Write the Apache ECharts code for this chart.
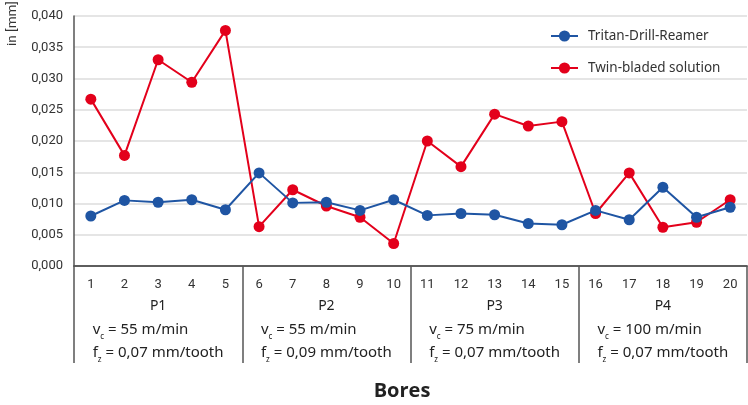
<!DOCTYPE html>
<html>
<head>
<meta charset="utf-8">
<script src="https://cdn.jsdelivr.net/npm/echarts@6/dist/echarts.min.js"></script>
<style>html,body{margin:0;padding:0;background:#fff}#c{width:748px;height:405px}</style>
</head>
<body>
<div id="c"></div>
<script>
const bores = ['1','2','3','4','5','6','7','8','9','10','11','12','13','14','15','16','17','18','19','20'];
const tritan = [0.0080,0.0105,0.0102,0.0106,0.0090,0.0149,0.0101,0.0102,0.0089,0.0106,0.0081,0.0084,0.0082,0.0068,0.0066,0.0089,0.0074,0.0126,0.0078,0.0094];
const twin = [0.0267,0.0177,0.0330,0.0294,0.0377,0.0063,0.0122,0.0096,0.0078,0.0036,0.0200,0.0159,0.0243,0.0224,0.0231,0.0084,0.0149,0.0062,0.0070,0.0106];
const groups = ['P1','P2','P3','P4'];
const vcValues = ['55','55','75','100'];
const fzValues = ['0,07','0,09','0,07','0,07'];
const seriesNames = ['Tritan-Drill-Reamer','Twin-bladed solution'];

const FONT = 'Roboto';
const TFONT = 'Noto Sans';
const chart = echarts.init(document.getElementById('c'), null, {renderer:'canvas'});
chart.setOption({
  animation: false,
  backgroundColor: '#fff',
  title: {
    text: 'Bores', left: 397, top: 376, textAlign: 'center',
    textStyle: {fontFamily: 'Open Sans', fontWeight: 'bold', fontSize: 20, color: '#222'}
  },
  legend: {
    orient: 'vertical', left: 550, top: 29, padding: 0, itemWidth: 27, itemHeight: 14, itemGap: 18,
    textStyle: {fontFamily: TFONT, fontSize: 13.5, color: '#333', lineHeight: 14, padding: [0,0,0,5]},
    data: seriesNames
  },
  graphic: [{
    type: 'text', x: 6, y: 46, rotation: Math.PI/2,
    style: {text: 'in [mm]', font: '13.5px Roboto', fill: '#333', textAlign: 'left', textVerticalAlign: 'top'}
  }],
  grid: {left: 74, right: 1, top: 16, bottom: 139, containLabel: false},
  xAxis: [{
    type: 'category', data: bores, boundaryGap: true,
    axisLine: {lineStyle: {color: '#555', width: 1.5}},
    axisTick: {show: false},
    axisLabel: {interval: 0, margin: 12, fontFamily: FONT, fontSize: 13, color: '#333'}
  }, {
    type: 'category', data: groups, position: 'bottom', offset: 0, boundaryGap: true,
    axisLine: {show: true, lineStyle: {color: '#555', width: 1.5}},
    axisTick: {show: true, interval: 0, length: 97, lineStyle: {color: '#555', width: 1.5}},
    axisLabel: {
      interval: 0, margin: 29, color: '#222', fontFamily: TFONT,
      formatter: function (val, idx) {
        return '{p|' + val + '}\n{t|v}{s|c}{t| = ' + vcValues[idx] + ' m/min}\n{t|f}{s|z}{t| = ' + fzValues[idx] + ' mm/tooth}';
      },
      rich: {
        p: {fontFamily: TFONT, fontSize: 14, lineHeight: 23, align: 'center', color: '#222'},
        t: {fontFamily: TFONT, fontSize: 15, lineHeight: 23, align: 'left', color: '#222'},
        s: {fontFamily: TFONT, fontSize: 8, lineHeight: 14, verticalAlign: 'bottom', align: 'left', color: '#222'}
      }
    }
  }],
  yAxis: {
    type: 'value', min: 0, max: 0.04, interval: 0.005,
    axisLine: {show: true, lineStyle: {color: '#555', width: 1.5}},
    axisTick: {show: false},
    splitLine: {lineStyle: {color: '#dcdcdc', width: 1.5}},
    axisLabel: {
      margin: 11, fontFamily: FONT, fontSize: 13, color: '#333',
      formatter: v => v.toFixed(3).replace('.', ',')
    }
  },
  series: [{
    name: seriesNames[0], type: 'line', data: tritan, xAxisIndex: 0,
    symbol: 'circle', symbolSize: 11, z: 3,
    lineStyle: {color: '#1f55a3', width: 2}, itemStyle: {color: '#1f55a3'}
  }, {
    name: seriesNames[1], type: 'line', data: twin, xAxisIndex: 0,
    symbol: 'circle', symbolSize: 11, z: 2,
    lineStyle: {color: '#e3001b', width: 2}, itemStyle: {color: '#e3001b'}
  }]
});
</script>
</body>
</html>
